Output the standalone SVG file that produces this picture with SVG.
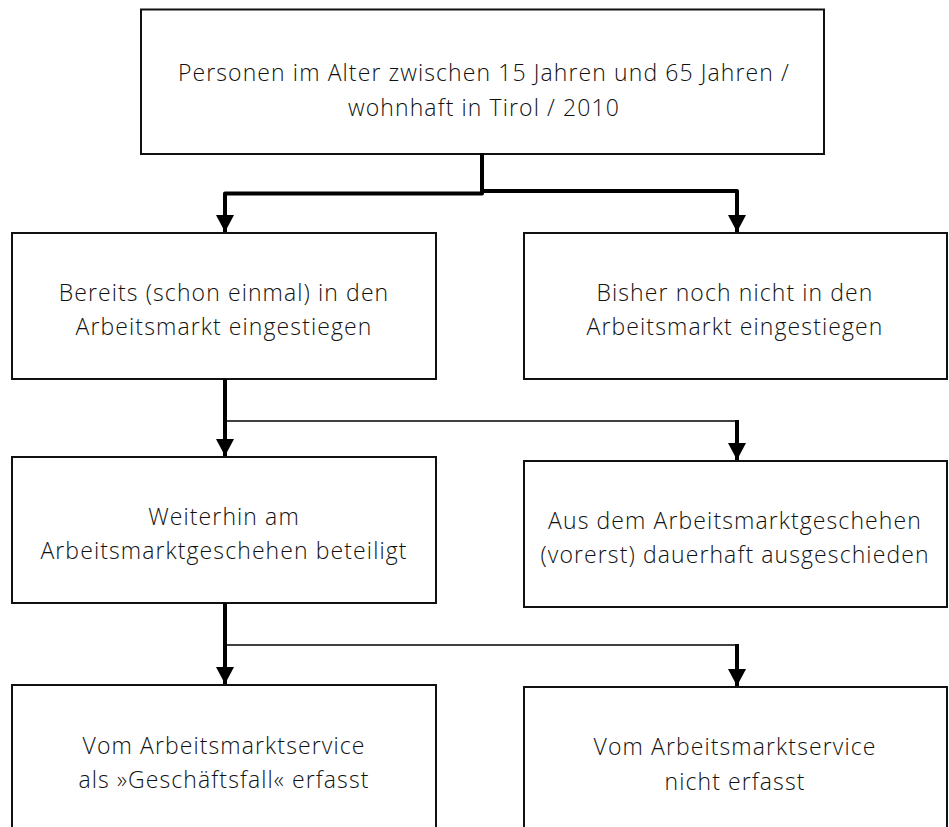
<svg xmlns="http://www.w3.org/2000/svg" width="949" height="827" viewBox="0 0 949 827">
<style>
.box{fill:#fff;stroke:#111;stroke-width:2}
.lbl{font-family:"Open Sans","Liberation Sans",sans-serif;font-weight:300;font-size:23px;fill:#111;text-anchor:middle;letter-spacing:1.1px}
.thick{fill:none;stroke:#000;stroke-width:4;stroke-linejoin:round;stroke-linecap:butt}
.thin{fill:none;stroke:#000;stroke-width:1.6}
</style>
<defs>
<marker id="arr" viewBox="0 0 17 18" refX="17" refY="9" markerWidth="17" markerHeight="18" markerUnits="userSpaceOnUse" orient="auto">
<path d="M0,0 L17,9 L0,18 Z" fill="#000"/>
</marker>
</defs>
<rect width="949" height="827" fill="#fff"/>
<g id="n-top">
<rect class="box" x="141" y="9.5" width="683" height="144.5"/>
<text class="lbl" x="484" y="81">Personen im Alter zwischen 15 Jahren und 65 Jahren /</text>
<text class="lbl" x="484" y="116">wohnhaft in Tirol / 2010</text>
</g>
<g id="n-bereits">
<rect class="box" x="12" y="233" width="424" height="146"/>
<text class="lbl" x="224" y="301">Bereits (schon einmal) in den</text>
<text class="lbl" x="224" y="335">Arbeitsmarkt eingestiegen</text>
</g>
<g id="n-bisher">
<rect class="box" x="524" y="233" width="423" height="146"/>
<text class="lbl" x="735" y="301">Bisher noch nicht in den</text>
<text class="lbl" x="735" y="335">Arbeitsmarkt eingestiegen</text>
</g>
<g id="n-weiterhin">
<rect class="box" x="12" y="457" width="424" height="146"/>
<text class="lbl" x="224" y="525">Weiterhin am</text>
<text class="lbl" x="224" y="559">Arbeitsmarktgeschehen beteiligt</text>
</g>
<g id="n-aus">
<rect class="box" x="524" y="461" width="423" height="146"/>
<text class="lbl" x="735" y="529">Aus dem Arbeitsmarktgeschehen</text>
<text class="lbl" x="735" y="563">(vorerst) dauerhaft ausgeschieden</text>
</g>
<g id="n-erfasst">
<rect class="box" x="12" y="685" width="424" height="160"/>
<text class="lbl" x="224" y="754">Vom Arbeitsmarktservice</text>
<text class="lbl" x="224" y="788">als »Geschäftsfall« erfasst</text>
</g>
<g id="n-nicht">
<rect class="box" x="524" y="687" width="423" height="160"/>
<text class="lbl" x="735" y="755">Vom Arbeitsmarktservice</text>
<text class="lbl" x="735" y="790">nicht erfasst</text>
</g>
<g id="connectors">
<path class="thick" d="M482,153 V193.5 H225 V232" marker-end="url(#arr)"/>
<path class="thick" d="M482,191 H737 V232" marker-end="url(#arr)"/>
<path class="thick" d="M225,379 V456" marker-end="url(#arr)"/>
<path class="thin" d="M225,421 H737"/>
<path class="thick" d="M737,420 V460" marker-end="url(#arr)"/>
<path class="thick" d="M225,603 V684" marker-end="url(#arr)"/>
<path class="thin" d="M225,645 H737"/>
<path class="thick" d="M737,644 V686" marker-end="url(#arr)"/>
</g>
</svg>
